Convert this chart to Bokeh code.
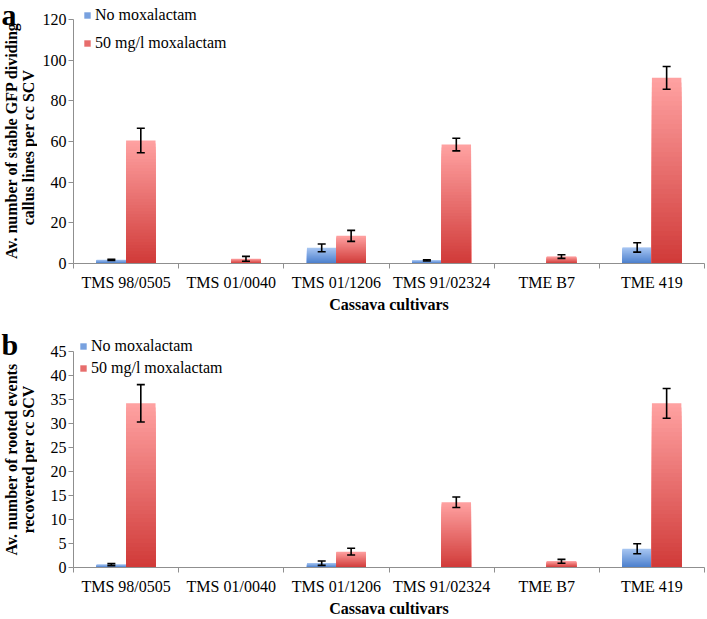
import numpy as np
from bokeh.plotting import figure
from bokeh.models import (ColumnDataSource, FixedTicker, Whisker, TeeHead, Legend,
                          LegendItem, Range1d)
from bokeh.layouts import column, row
from bokeh.embed import file_html
from bokeh.resources import INLINE
from bokeh.core.properties import value

# ---------------- data ----------------
cultivars = ["TMS 98/0505", "TMS 01/0040", "TMS 01/1206", "TMS 91/02324", "TME B7", "TME 419"]
series_names = ["No moxalactam", "50 mg/l moxalactam"]

a_none = [1.8, 0.0, 7.7, 1.5, 0.0, 7.9]
a_none_err = [0.3, 0.0, 1.9, 0.3, 0.0, 2.3]
a_moxa = [60.5, 2.3, 13.6, 58.5, 3.4, 91.3]
a_moxa_err = [6.0, 1.2, 2.7, 3.1, 0.9, 5.6]

b_none = [0.6, 0.0, 0.9, 0.0, 0.0, 3.9]
b_none_err = [0.2, 0.0, 0.45, 0.0, 0.0, 1.05]
b_moxa = [34.2, 0.0, 3.3, 13.6, 1.3, 34.2]
b_moxa_err = [3.9, 0.0, 0.7, 1.1, 0.4, 3.1]

a_yticks = [0, 20, 40, 60, 80, 100, 120]
b_yticks = [0, 5, 10, 15, 20, 25, 30, 35, 40, 45]

a_ylabel = ["Av. number of stable GFP dividing", "callus lines per cc SCV"]
b_ylabel = ["Av. number of rooted events", "recovered per cc SCV"]
xlabel = "Cassava cultivars"

# ---------------- style / layout ----------------
FONT = "'Liberation Serif', 'Times New Roman', serif"
AXIS_GRAY = "#8f8f8f"
BLUE_BOTTOM, BLUE_TOP = (74, 126, 204), (168, 198, 242)
RED_BOTTOM, RED_TOP = (208, 58, 56), (255, 162, 162)
N_SLICES = 40
BAR_W = 0.28
TOTAL_W = 707
TITLE_W = 37                # strip that holds panel letter + y title
MAIN_W = TOTAL_W - TITLE_W
LEFT, RIGHT, BOTTOM = 36, 3, 52


def rgb(c):
    return "#%02x%02x%02x" % tuple(int(round(v)) for v in c)


def lerp(c0, c1, t):
    return tuple(a + (b - a) * t for a, b in zip(c0, c1))


def gradient_bars(p, xs, vals, c_bot, c_top):
    bx, btop, bcol = [], [], []
    for x, v in zip(xs, vals):
        if v <= 0:
            continue
        for k in range(N_SLICES - 1, -1, -1):
            t = (k + 0.5) / N_SLICES
            bx.append(x)
            btop.append(v * (k + 1) / N_SLICES)
            bcol.append(rgb(lerp(c_bot, c_top, t)))
    src = ColumnDataSource(dict(x=bx, top=btop, color=bcol))
    return p.vbar(x="x", top="top", bottom=0, width=BAR_W, fill_color="color",
                  line_color=None, source=src)


def whiskers(p, xs, vals, errs):
    bx, up, lo = [], [], []
    for x, v, e in zip(xs, vals, errs):
        if v <= 0:
            continue
        bx.append(x)
        up.append(v + e)
        lo.append(max(v - e, 0))
    src = ColumnDataSource(dict(base=bx, upper=up, lower=lo))
    w = Whisker(base="base", upper="upper", lower="lower", source=src,
                line_color="black", line_width=1.6, level="annotation",
                upper_head=TeeHead(size=8, line_width=1.6, line_color="black"),
                lower_head=TeeHead(size=8, line_width=1.6, line_color="black"))
    p.add_layout(w)


def title_strip(letter, ylabel, height, letter_base_px, title_centers_px):
    """Narrow figure left of the axis: panel letter and two-line rotated y title.
    Its frame matches the main plot's frame (same bottom border)."""
    frame_h = height - BOTTOM
    s = figure(width=TITLE_W, height=height, output_backend="svg", toolbar_location=None,
               x_range=Range1d(0, TITLE_W), y_range=Range1d(0, frame_h),
               x_axis_location=None, y_axis_location=None,
               min_border_left=0, min_border_right=0,
               min_border_top=0, min_border_bottom=BOTTOM)
    s.outline_line_color = None
    s.xgrid.visible = False
    s.ygrid.visible = False
    s.text(x=[1], y=[frame_h - letter_base_px], text=[letter],
           text_font=value(FONT), text_font_size="30px", text_font_style="bold",
           text_color="black", text_align="left", text_baseline="alphabetic")
    s.text(x=[11, 28], y=[frame_h - c for c in title_centers_px], text=ylabel,
           angle=np.pi / 2,
           text_font=value(FONT), text_font_size="16px", text_font_style="bold",
           text_color="black", text_align="center", text_baseline="middle")
    return s


def panel(none_v, none_e, moxa_v, moxa_e, ymax, yticks, height, axis_top_px,
          legend_top_px, legend_spacing, legend_x):
    frame_h = height - BOTTOM
    # headroom above the axis top (the axis itself is bounded to [0, ymax])
    y_end = ymax * frame_h / (frame_h - axis_top_px)
    n = len(cultivars)
    p = figure(width=MAIN_W, height=height, output_backend="svg", toolbar_location=None,
               x_range=Range1d(0, n), y_range=Range1d(0, y_end),
               min_border_left=LEFT, min_border_right=RIGHT,
               min_border_top=0, min_border_bottom=BOTTOM)
    p.outline_line_color = None
    p.xgrid.visible = False
    p.ygrid.visible = False

    centers = [i + 0.5 for i in range(n)]
    x_none = [c - BAR_W / 2 for c in centers]
    x_moxa = [c + BAR_W / 2 for c in centers]

    r_none = gradient_bars(p, x_none, none_v, BLUE_BOTTOM, BLUE_TOP)
    r_moxa = gradient_bars(p, x_moxa, moxa_v, RED_BOTTOM, RED_TOP)
    whiskers(p, x_none, none_v, none_e)
    whiskers(p, x_moxa, moxa_v, moxa_e)

    # x axis
    xa = p.xaxis[0]
    xa.ticker = FixedTicker(ticks=centers, minor_ticks=list(range(n + 1)))
    xa.major_label_overrides = {c: name for c, name in zip(centers, cultivars)}
    xa.major_tick_line_color = None
    xa.major_tick_out = 5
    xa.major_tick_in = 0
    xa.minor_tick_line_color = AXIS_GRAY
    xa.minor_tick_out = 5
    xa.minor_tick_in = 0
    xa.axis_line_color = AXIS_GRAY
    xa.major_label_text_font = FONT
    xa.major_label_text_font_size = "16px"
    xa.major_label_text_color = "black"
    xa.major_label_standoff = 5
    xa.axis_label = xlabel
    xa.axis_label_text_font = FONT
    xa.axis_label_text_font_size = "16px"
    xa.axis_label_text_font_style = "bold"
    xa.axis_label_text_color = "black"
    xa.axis_label_standoff = 2

    # y axis
    ya = p.yaxis[0]
    ya.bounds = (0, ymax)
    ya.ticker = FixedTicker(ticks=yticks, minor_ticks=[])
    ya.axis_line_color = AXIS_GRAY
    ya.major_tick_line_color = AXIS_GRAY
    ya.major_tick_out = 5
    ya.major_tick_in = 0
    ya.minor_tick_line_color = None
    ya.major_label_text_font = FONT
    ya.major_label_text_font_size = "16px"
    ya.major_label_text_color = "black"
    ya.major_label_standoff = 2

    # legend (tuple location = bottom-left corner, measured from frame bottom)
    label_h = 20
    legend_h = 2 * label_h + legend_spacing
    mid = N_SLICES // 2
    leg = Legend(items=[LegendItem(label=series_names[0], renderers=[r_none], index=mid),
                        LegendItem(label=series_names[1], renderers=[r_moxa], index=mid)],
                 location=(legend_x, frame_h - legend_top_px - legend_h),
                 orientation="vertical",
                 glyph_width=8, glyph_height=8, label_height=label_h, label_standoff=4,
                 spacing=legend_spacing, padding=0, margin=0,
                 border_line_color=None, background_fill_alpha=0,
                 label_text_font=FONT, label_text_font_size="16px",
                 label_text_color="black")
    p.add_layout(leg)
    return p


HA, HB = 315, 304
sa = title_strip("a", a_ylabel, HA, letter_base_px=14, title_centers_px=[140, 147])
pa = panel(a_none, a_none_err, a_moxa, a_moxa_err, 120, a_yticks, HA,
           axis_top_px=19, legend_top_px=5, legend_spacing=8, legend_x=10)
sb = title_strip("b", b_ylabel, HB, letter_base_px=29, title_centers_px=[144, 144])
pb = panel(b_none, b_none_err, b_moxa, b_moxa_err, 45, b_yticks, HB,
           axis_top_px=36, legend_top_px=21, legend_spacing=2, legend_x=6)

layout = column(row(sa, pa, spacing=0), row(sb, pb, spacing=0), spacing=0)
open("out.html", "w").write(file_html(layout, INLINE))
